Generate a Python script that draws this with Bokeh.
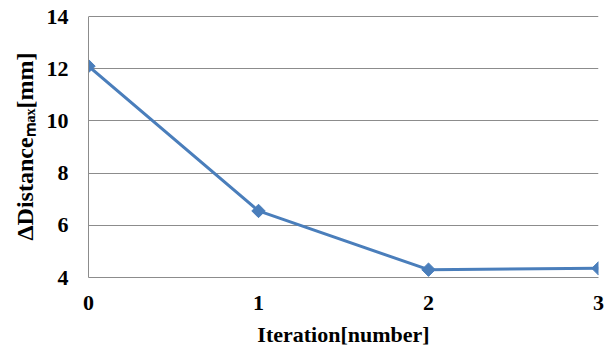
import math
from bokeh.plotting import figure
from bokeh.models import Range1d, FixedTicker
from bokeh.embed import file_html
from bokeh.resources import INLINE

# ---- data ----
iterations = [0, 1, 2, 3]
distance_max = [12.1, 6.55, 4.3, 4.35]
y_ticks = [4, 6, 8, 10, 12, 14]
x_label = "Iteration[number]"
y_label = "\u0394Distance\u2098\u2090\u2093[mm]"   # ΔDistance_max[mm]

# ---- style ----
FONT = "Liberation Serif"
LINE_COLOR = "#4A7EBB"
GRID_COLOR = "#8c8c8c"

p = figure(width=606, height=349, output_backend="svg", toolbar_location=None,
           x_range=Range1d(iterations[0], iterations[-1]),
           y_range=Range1d(y_ticks[0], y_ticks[-1] + 0.04),
           min_border_left=88, min_border_right=8, min_border_top=15, min_border_bottom=71)
p.outline_line_color = None
p.background_fill_color = "white"
p.border_fill_color = "white"

# grid
p.xgrid.visible = False
p.ygrid.ticker = FixedTicker(ticks=y_ticks)
p.ygrid.grid_line_color = GRID_COLOR
p.ygrid.grid_line_width = 1

# y axis
ya = p.yaxis[0]
ya.bounds = (y_ticks[0], y_ticks[-1])
ya.ticker = FixedTicker(ticks=y_ticks)
ya.major_tick_in = 0
ya.major_tick_out = 0
ya.minor_tick_in = 0
ya.minor_tick_out = 0
ya.axis_line_color = GRID_COLOR
ya.major_label_text_font = FONT
ya.major_label_text_font_style = "bold"
ya.major_label_text_font_size = "22px"
ya.major_label_text_color = "black"
ya.major_label_standoff = 20
ya.axis_label = y_label
ya.axis_label_text_font = FONT
ya.axis_label_text_font_style = "bold"
ya.axis_label_text_font_size = "24px"
ya.axis_label_text_color = "black"
ya.axis_label_standoff = 6

# x axis
xa = p.xaxis[0]
xa.ticker = FixedTicker(ticks=iterations)
xa.major_tick_in = 0
xa.major_tick_out = 0
xa.minor_tick_in = 0
xa.minor_tick_out = 0
xa.axis_line_color = GRID_COLOR
xa.major_label_text_font = FONT
xa.major_label_text_font_style = "bold"
xa.major_label_text_font_size = "22px"
xa.major_label_text_color = "black"
xa.major_label_standoff = 18
xa.axis_label = x_label
xa.axis_label_text_font = FONT
xa.axis_label_text_font_style = "bold"
xa.axis_label_text_font_size = "22px"
xa.axis_label_text_color = "black"
xa.axis_label_standoff = 9

# data
p.line(iterations, distance_max, line_color=LINE_COLOR, line_width=3)
p.scatter(iterations, distance_max, marker="square", angle=math.pi / 4, size=9.5,
          fill_color=LINE_COLOR, line_color=LINE_COLOR)

open("out.html", "w").write(file_html(p, INLINE))
